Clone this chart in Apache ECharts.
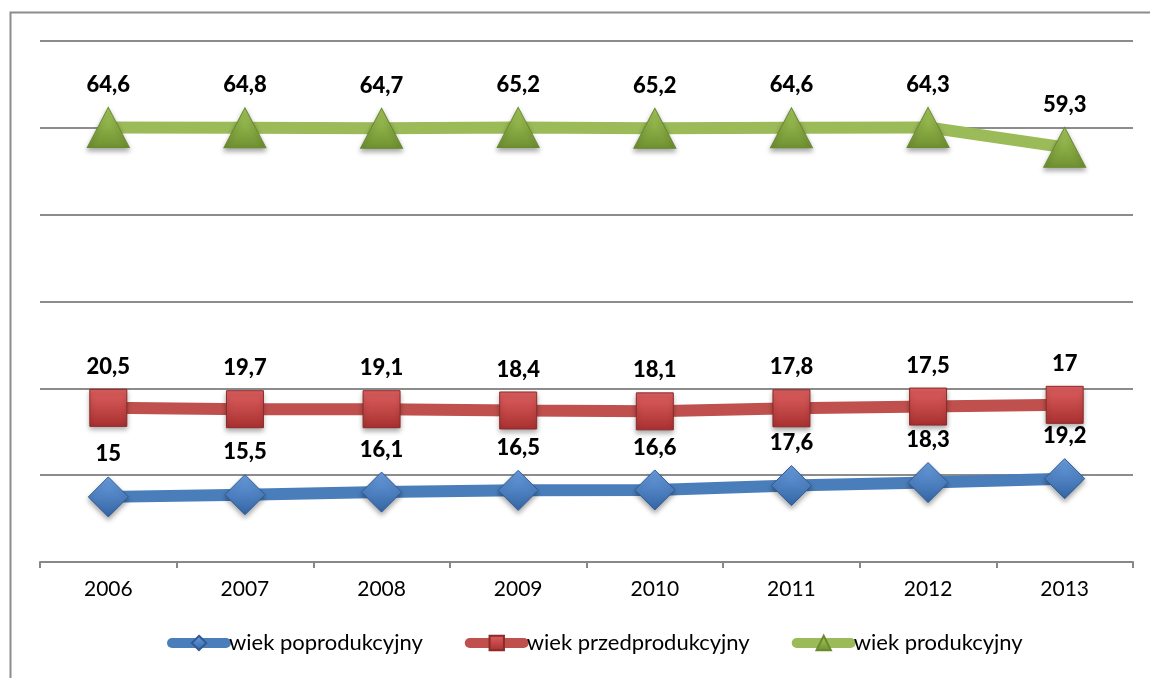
<!DOCTYPE html>
<html>
<head>
<meta charset="utf-8">
<script src="https://cdn.jsdelivr.net/npm/echarts@6/dist/echarts.min.js"></script>
<style>html,body{margin:0;padding:0;background:#fff;}#c{width:1150px;height:678px;}</style>
</head>
<body>
<div id="c"></div>
<script>
var years = ['2006','2007','2008','2009','2010','2011','2012','2013'];
var poprodukcyjny = [15, 15.5, 16.1, 16.5, 16.6, 17.6, 18.3, 19.2];
var przedprodukcyjny = [20.5, 19.7, 19.1, 18.4, 18.1, 17.8, 17.5, 17];
var produkcyjny = [64.6, 64.8, 64.7, 65.2, 65.2, 64.6, 64.3, 59.3];
var seriesNames = ['wiek poprodukcyjny', 'wiek przedprodukcyjny', 'wiek produkcyjny'];

var FONT = 'Lato, "Open Sans", sans-serif';
var chart = echarts.init(document.getElementById('c'), null, {renderer:'canvas'});
function grad(top, bottom){
  return new echarts.graphic.LinearGradient(0,0,0,1,[{offset:0,color:top},{offset:1,color:bottom}]);
}
var labelCfg = {
  show:true, position:'top', distance:11,
  fontFamily:FONT, fontWeight:900, fontSize:22, color:'#000',
  formatter:function(p){ return String(p.value).replace('.', ','); }
};
function mk(name, data, lineColor, symbol, size, g1, g2, border){
  return {
    name:name, type:'line', stack:'total', data:data,
    symbol:symbol, symbolSize:size, showAllSymbol:true,
    lineStyle:{color:lineColor, width:12, cap:'round'},
    itemStyle:{color:grad(g1,g2), borderColor:border, borderWidth:1,
      shadowColor:'rgba(0,0,0,0.35)', shadowBlur:5, shadowOffsetY:3},
    label:labelCfg,
    emphasis:{disabled:true}, animation:false
  };
}
chart.setOption({
  backgroundColor:'#fff',
  animation:false,
  graphic:[{type:'rect', shape:{x:10.5, y:12.5, width:1200, height:800},
    style:{fill:'none', stroke:'#8c8c8c', lineWidth:2}, z:-1}],
  grid:{left:40, right:17, top:41, bottom:116},
  xAxis:{
    type:'category', data:years, boundaryGap:true,
    axisLine:{lineStyle:{color:'#888', width:2}},
    axisTick:{show:true, length:6, lineStyle:{color:'#888', width:2}},
    axisLabel:{color:'#000', fontSize:21, margin:17, fontFamily:FONT}
  },
  yAxis:{
    type:'value', min:0, max:120, interval:20,
    axisLabel:{show:false}, axisLine:{show:false}, axisTick:{show:false},
    splitLine:{lineStyle:{color:'#8c8c8c', width:2}}
  },
  legend:{
    bottom:19, left:162, itemWidth:54, itemHeight:18, itemGap:42,
    lineStyle:{width:10, cap:'round'},
    textStyle:{color:'#000', fontSize:22, fontFamily:FONT, padding:[0,0,0,-2]},
    data:seriesNames
  },
  series:[
    mk(seriesNames[0], poprodukcyjny, '#4a7ebb', 'diamond', [40,40], '#6a9ee0', '#3465a4', '#2f5b94'),
    mk(seriesNames[1], przedprodukcyjny, '#c0504d', 'rect', [37,37], '#e06060', '#a83030', '#8c2a28'),
    mk(seriesNames[2], produkcyjny, '#9bbb59', 'triangle', [42,40], '#a8cc5c', '#6f9030', '#6a8a30')
  ]
});
</script>
</body>
</html>
